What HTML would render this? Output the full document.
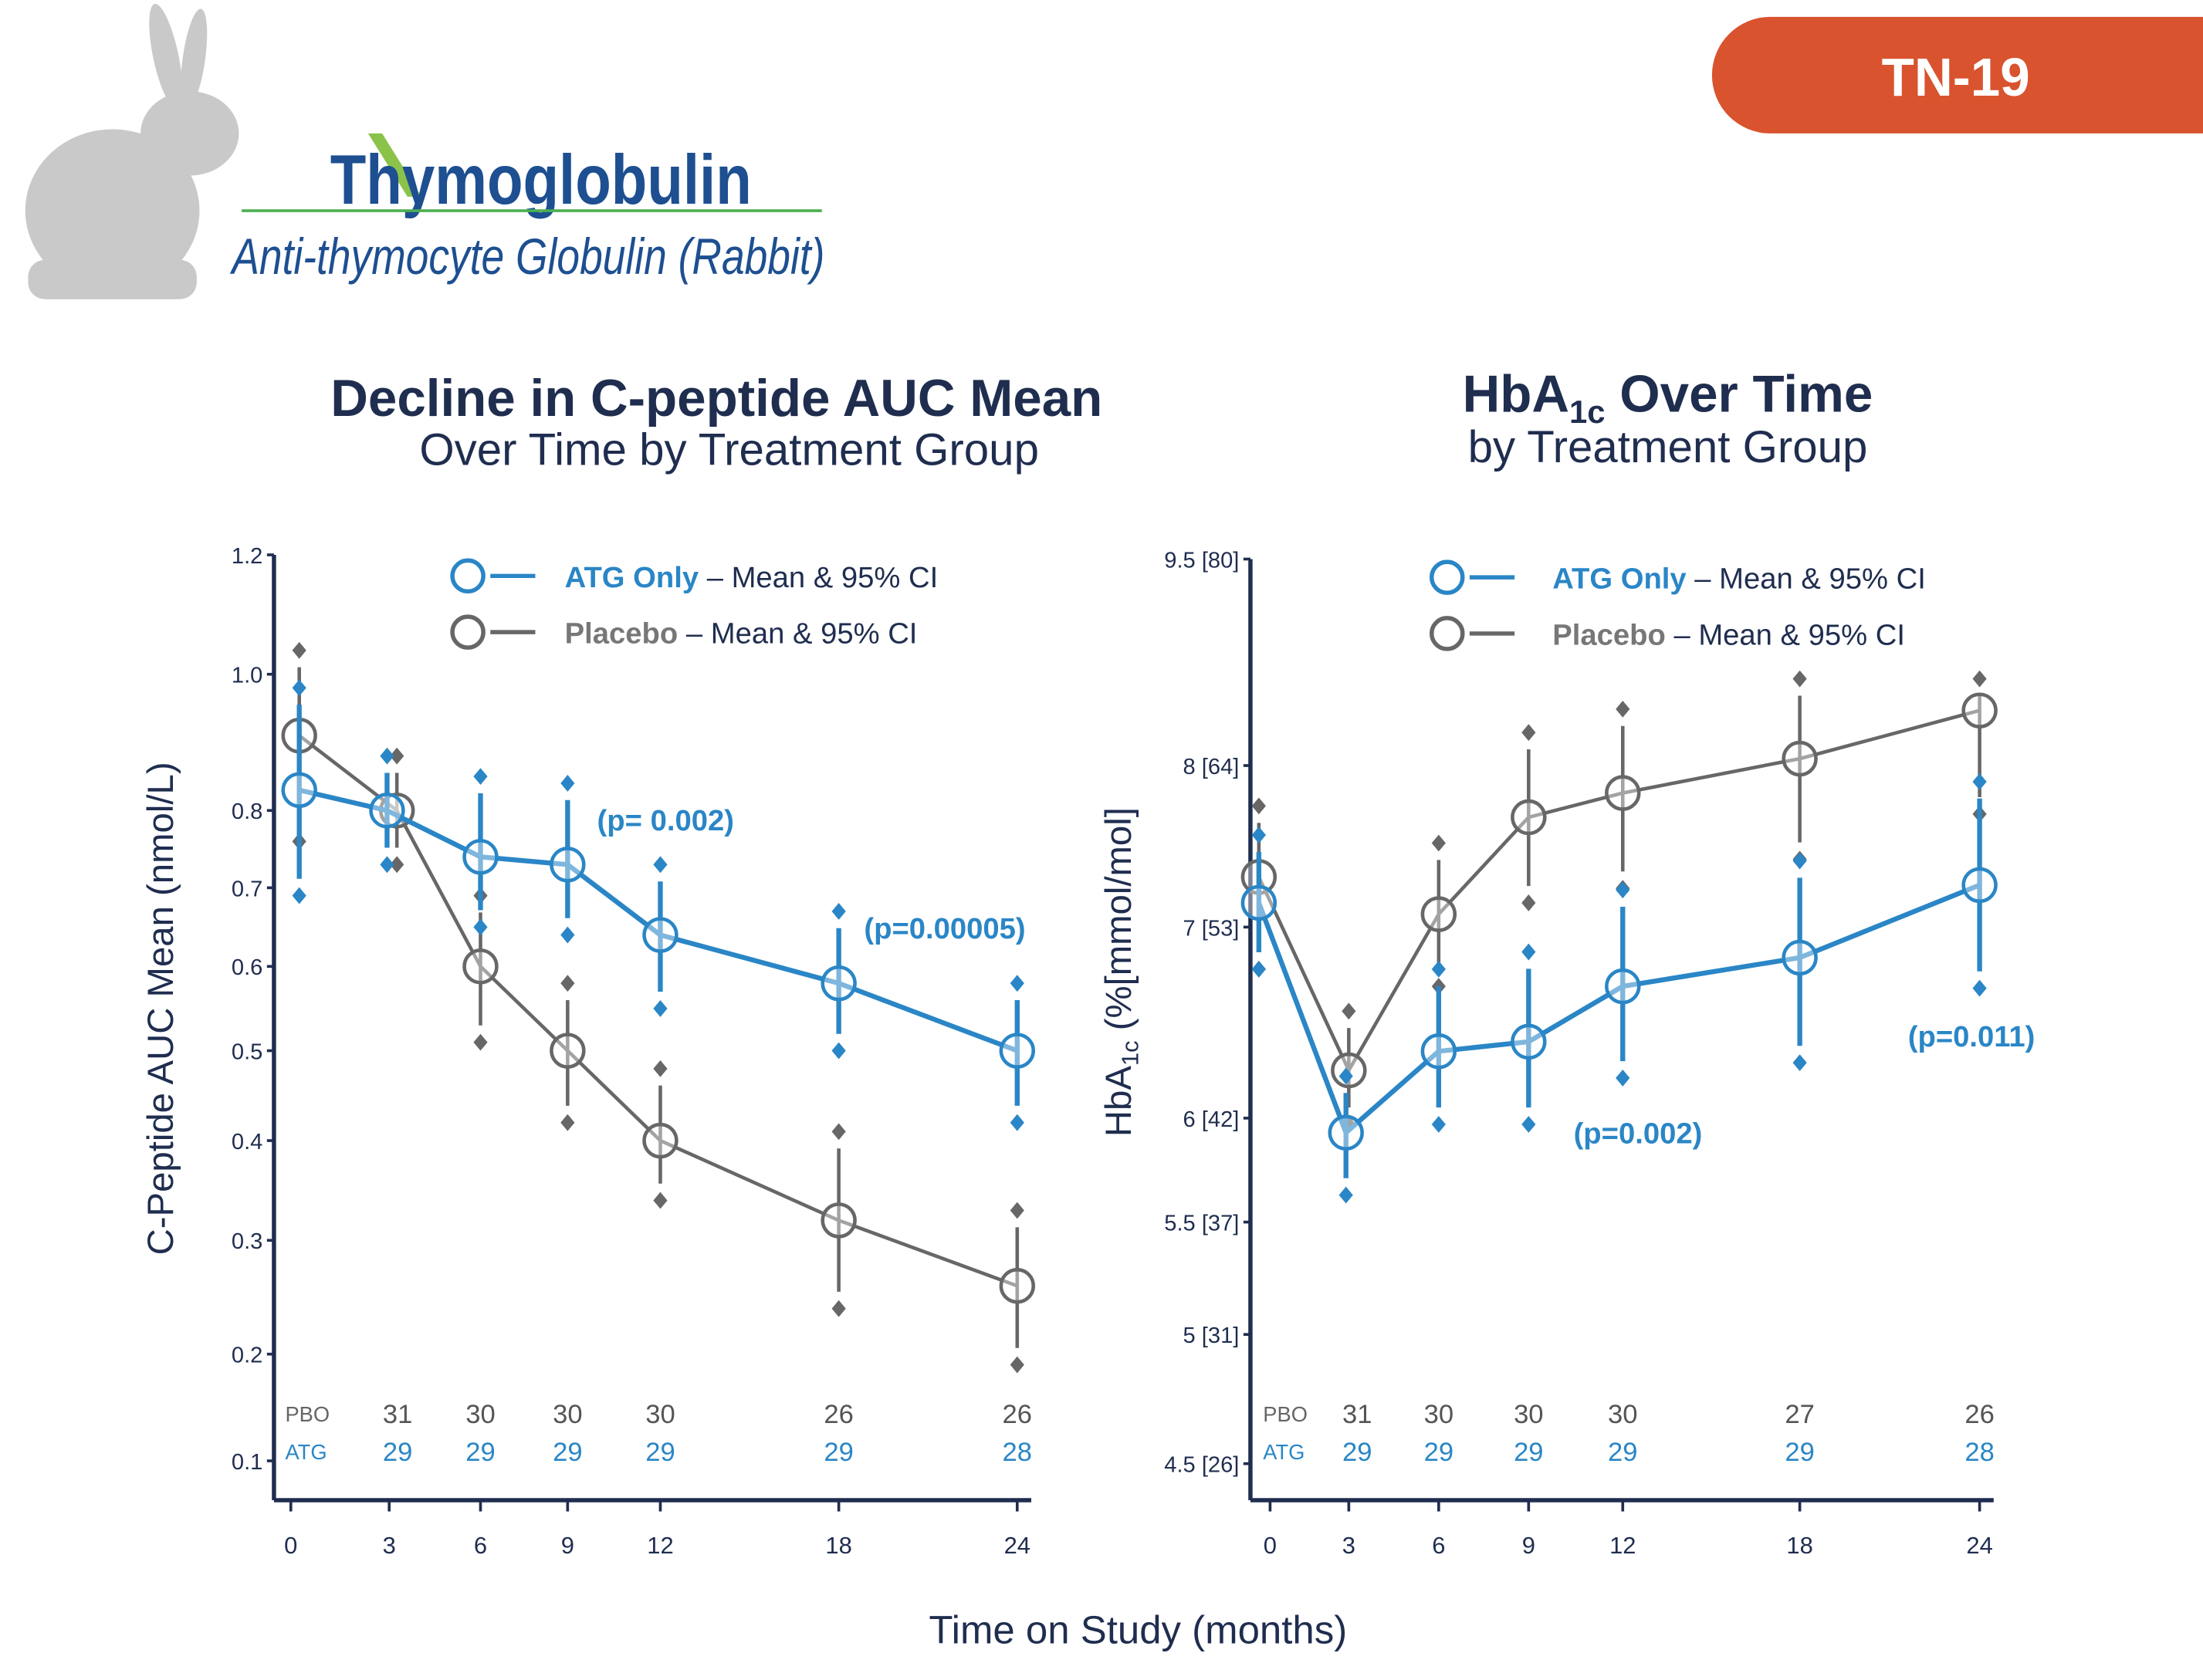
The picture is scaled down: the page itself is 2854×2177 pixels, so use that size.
<!DOCTYPE html>
<html><head><meta charset="utf-8"><style>
html,body{margin:0;padding:0;background:#fff}
svg{display:block}
text{font-family:"Liberation Sans",sans-serif}
</style></head><body>
<svg id="root" width="2854" height="2177" viewBox="0 0 1568 1196" preserveAspectRatio="none" xmlns="http://www.w3.org/2000/svg">
<g fill="#c9c9c9">
<ellipse cx="80" cy="150" rx="62" ry="58"/>
<ellipse cx="135" cy="95" rx="35" ry="30"/>
<ellipse cx="118" cy="40" rx="9" ry="38" transform="rotate(-12 118 40)"/>
<ellipse cx="138" cy="42" rx="8" ry="36" transform="rotate(8 138 42)"/>
<rect x="20" y="185" width="120" height="28" rx="12"/>
</g>
<g>
<path d="M262 95 L290 140 L300 140 L272 95Z" fill="#8bc34a"/>
<text x="235" y="145" font-size="50" font-weight="bold" fill="#1d4f91" textLength="300" lengthAdjust="spacingAndGlyphs">Thymoglobulin</text>
<line x1="172" y1="150" x2="585" y2="150" stroke="#4caf50" stroke-width="2"/>
<text x="165" y="195" font-size="36" font-style="italic" fill="#1d4f91" textLength="422" lengthAdjust="spacingAndGlyphs">Anti-thymocyte Globulin (Rabbit)</text>
</g>
<g>
<path d="M1260 12 H1568 V95 H1260 A41.5 41.5 0 0 1 1260 12Z" fill="#d9532f"/>
<text x="1392" y="68" font-size="38" font-weight="bold" fill="#fff" text-anchor="middle">TN-19</text>
</g>
<g fill="#1f2d4f" text-anchor="middle">
<text x="510" y="296" font-size="37" font-weight="bold">Decline in C-peptide AUC Mean</text>
<text x="519" y="331" font-size="32">Over Time by Treatment Group</text>
</g>
<g fill="#1f2d4f" text-anchor="middle">
<text x="1187" y="293" font-size="37" font-weight="bold">HbA<tspan font-size="23" dy="8">1c</tspan><tspan dy="-8"> Over Time</tspan></text>
<text x="1187" y="329" font-size="32">by Treatment Group</text>
</g>
<text x="810" y="1170" font-size="28" fill="#1f2d4f" text-anchor="middle">Time on Study (months)</text>
<g id="left"></g>
<g id="right"></g>
</svg>
<script>
// Left chart data
const lMonths=[0,3,6,9,12,18,24];
const lAtgMean=[0.83,0.80,0.74,0.73,0.64,0.58,0.50];
const lAtgLo=[0.69,0.73,0.65,0.64,0.55,0.50,0.42];
const lAtgHi=[0.98,0.88,0.85,0.84,0.73,0.67,0.58];
const lPboMean=[0.91,0.80,0.60,0.50,0.40,0.32,0.26];
const lPboLo=[0.76,0.73,0.51,0.42,0.34,0.24,0.19];
const lPboHi=[1.04,0.88,0.69,0.58,0.48,0.41,0.33];
const lYTicks=[1.2,1.0,0.8,0.7,0.6,0.5,0.4,0.3,0.2,0.1];
const lYTickLabels=["1.2","1.0","0.8","0.7","0.6","0.5","0.4","0.3","0.2","0.1"];
const lPboN=["31","30","30","30","26","26"];
const lAtgN=["29","29","29","29","29","28"];
// Right chart data
const rMonths=[0,3,6,9,12,18,24];
const rAtgMean=[7.15,5.93,6.35,6.40,6.69,6.84,7.26];
const rAtgLo=[6.78,5.63,5.97,5.97,6.21,6.29,6.68];
const rAtgHi=[7.57,6.22,6.78,6.87,7.23,7.41,7.90];
const rPboMean=[7.31,6.25,7.08,7.68,7.83,8.05,8.40];
const rPboLo=[6.78,5.97,6.69,7.15,7.24,7.42,7.70];
const rPboHi=[7.75,6.56,7.52,8.24,8.41,8.63,8.63];
const rYTicks=[9.5,8,7,6,5.5,5,4.5];
const rYTickLabels=["9.5 [80]","8 [64]","7 [53]","6 [42]","5.5 [37]","5 [31]","4.5 [26]"];
const rPboN=["31","30","30","30","27","26"];
const rAtgN=["29","29","29","29","29","28"];
const xTickLabels=["0","3","6","9","12","18","24"];

const NS="http://www.w3.org/2000/svg";
function mk(parent,tag,attrs,txt){const e=document.createElementNS(NS,tag);for(const k in attrs)e.setAttribute(k,attrs[k]);if(txt!==undefined)e.textContent=txt;parent.appendChild(e);return e;}
function interp(vals,pix){return v=>{for(let i=0;i<vals.length-1;i++){const a=vals[i],b=vals[i+1];if((v<=a&&v>=b)||(v>=a&&v<=b)){return pix[i]+(v-a)/(b-a)*(pix[i+1]-pix[i]);}}
 if(Math.abs(v-vals[0])<Math.abs(v-vals[vals.length-1])){return pix[0]+(v-vals[0])/(vals[1]-vals[0])*(pix[1]-pix[0]);}const n=vals.length-1;return pix[n]+(v-vals[n])/(vals[n-1]-vals[n])*(pix[n-1]-pix[n]);};}
const BLUE="#2a86c6",GREY="#676767",NAVY="#1f2d4f";

function chart(g,cfg){
 const {months,yTicks,yLabels,yPix,xPix,tickPix,axisX,axisTop,axisBottom,xAxisY,atg,pbo,pN,aN,nX,legX,legY,legTX,yTitle,yTitleX,yTitleY,off}=cfg;
 const X=interp(months,xPix),Y=interp(yTicks,yPix),XT=interp(months,tickPix);
 const ax=mk(g,'g',{});
 
 mk(ax,'line',{x1:axisX,y1:axisTop,x2:axisX,y2:axisBottom,stroke:NAVY,'stroke-width':3});
 yTicks.forEach((t,i)=>{const y=Y(t);mk(ax,'line',{x1:axisX-5,y1:y,x2:axisX,y2:y,stroke:NAVY,'stroke-width':2});
  const tl=mk(ax,'text',{x:axisX-8,y:y+6,'font-size':16,fill:NAVY,'text-anchor':'end'},yLabels[i]);
  });
 const xa=mk(g,'g',{});
 
 mk(xa,'line',{x1:axisX,y1:xAxisY,x2:tickPix[tickPix.length-1]+10,y2:xAxisY,stroke:NAVY,'stroke-width':3});
 months.forEach((m,i)=>{const x=XT(m);mk(xa,'line',{x1:x,y1:xAxisY,x2:x,y2:xAxisY+8,stroke:NAVY,'stroke-width':2});
  const tl=mk(xa,'text',{x:x,y:xAxisY+38,'font-size':17,fill:NAVY,'text-anchor':'middle'},xTickLabels[i]);
  });
 const yt=mk(g,'text',{x:yTitleX,y:yTitleY,'font-size':26,fill:NAVY,'text-anchor':'middle',transform:`rotate(-90 ${yTitleX} ${yTitleY})`});
 
 yt.innerHTML=yTitle;
 [[pbo,GREY,'placebo',off,2.5],[atg,BLUE,'atg',-off,3.5]].forEach(([s,col,nm,dx,w])=>{
  const sg=mk(g,'g',{});
  
  const pts=months.map((m,i)=>[X(m)+(i==1?dx:0),Y(s.mean[i])]);
  const ln=mk(sg,'polyline',{points:pts.map(p=>p.join(',')).join(' '),fill:'none',stroke:col,'stroke-width':w});
  
  months.forEach((m,i)=>{const x=pts[i][0],yl=Y(s.lo[i]),yh=Y(s.hi[i]);
   const eb=mk(sg,'line',{x1:x,y1:yh+12,x2:x,y2:yl-12,stroke:col,'stroke-width':w});
   
   [yl,yh].forEach(yy=>{const d=mk(sg,'path',{d:`M${x} ${yy-6} L${x+5} ${yy} L${x} ${yy+6} L${x-5} ${yy}Z`,fill:col});
    });
   const c=mk(sg,'circle',{cx:x,cy:pts[i][1],r:11.5,fill:'rgba(255,255,255,0.4)',stroke:col,'stroke-width':2.5});
   
  });
 });
 const ng=mk(g,'g',{});
 
 mk(ng,'text',{x:nX,y:1012,'font-size':15,fill:'#666'},'PBO');
 mk(ng,'text',{x:nX,y:1039,'font-size':15,fill:BLUE},'ATG');
 months.slice(1).forEach((m,i)=>{const x=XT(m)+(i==0?6:0);
  mk(ng,'text',{x:x,y:1013,'font-size':19,fill:'#555','text-anchor':'middle'},pN[i]);
  mk(ng,'text',{x:x,y:1040,'font-size':19,fill:BLUE,'text-anchor':'middle'},aN[i]);});
 const lg=mk(g,'g',{});
 
 mk(lg,'circle',{cx:legX,cy:legY,r:11,fill:'none',stroke:BLUE,'stroke-width':3});
 mk(lg,'line',{x1:legX+16,y1:legY,x2:legX+48,y2:legY,stroke:BLUE,'stroke-width':3});
 mk(lg,'circle',{cx:legX,cy:legY+40,r:11,fill:'none',stroke:GREY,'stroke-width':3});
 mk(lg,'line',{x1:legX+16,y1:legY+40,x2:legX+48,y2:legY+40,stroke:GREY,'stroke-width':3});
 const t1=mk(lg,'text',{x:legTX,y:legY+8,'font-size':21,fill:NAVY});
 t1.innerHTML=`<tspan fill="${BLUE}" font-weight="bold">ATG Only</tspan> – Mean &amp; 95% CI`;
 const t2=mk(lg,'text',{x:legTX,y:legY+48,'font-size':21,fill:NAVY});
 t2.innerHTML=`<tspan fill="#777" font-weight="bold">Placebo</tspan> – Mean &amp; 95% CI`;
}
const L=document.getElementById('left'),R=document.getElementById('right');
chart(L,{months:lMonths,yTicks:lYTicks,yLabels:lYTickLabels,yPix:[395,480,577,632,688,748,812,883,964,1040],
 xPix:[213,279,342,404,470,597,724],tickPix:[207,277,342,404,470,597,724],axisX:195,axisTop:395,axisBottom:1068,xAxisY:1068,off:3.5,
 atg:{mean:lAtgMean,lo:lAtgLo,hi:lAtgHi},pbo:{mean:lPboMean,lo:lPboLo,hi:lPboHi},pN:lPboN,aN:lAtgN,nX:203,
 legX:333,legY:410,legTX:402,yTitle:'C-Peptide AUC Mean (nmol/L)',yTitleX:123,yTitleY:718});
chart(R,{months:rMonths,yTicks:rYTicks,yLabels:rYTickLabels,yPix:[398,545,660,796,870,950,1042],
 xPix:[896,959,1024,1088,1155,1281,1409],tickPix:[904,960,1024,1088,1155,1281,1409],axisX:890,axisTop:398,axisBottom:1068,xAxisY:1068,off:1,
 atg:{mean:rAtgMean,lo:rAtgLo,hi:rAtgHi},pbo:{mean:rPboMean,lo:rPboLo,hi:rPboHi},pN:rPboN,aN:rAtgN,nX:899,
 legX:1030,legY:411,legTX:1105,yTitle:'HbA<tspan font-size="17" dy="5">1c</tspan><tspan dy="-5"> (%[mmol/mol]</tspan>',yTitleX:805,yTitleY:692});
[[L,425,591,'(p= 0.002)'],[L,615,668,'(p=0.00005)'],[R,1120,814,'(p=0.002)'],[R,1358,745,'(p=0.011)']].forEach(([g,x,y,t])=>{
 const e=mk(g,'text',{x:x,y:y,'font-size':21,'font-weight':'bold',fill:BLUE},t);
 
 
});
</script>
</body></html>
